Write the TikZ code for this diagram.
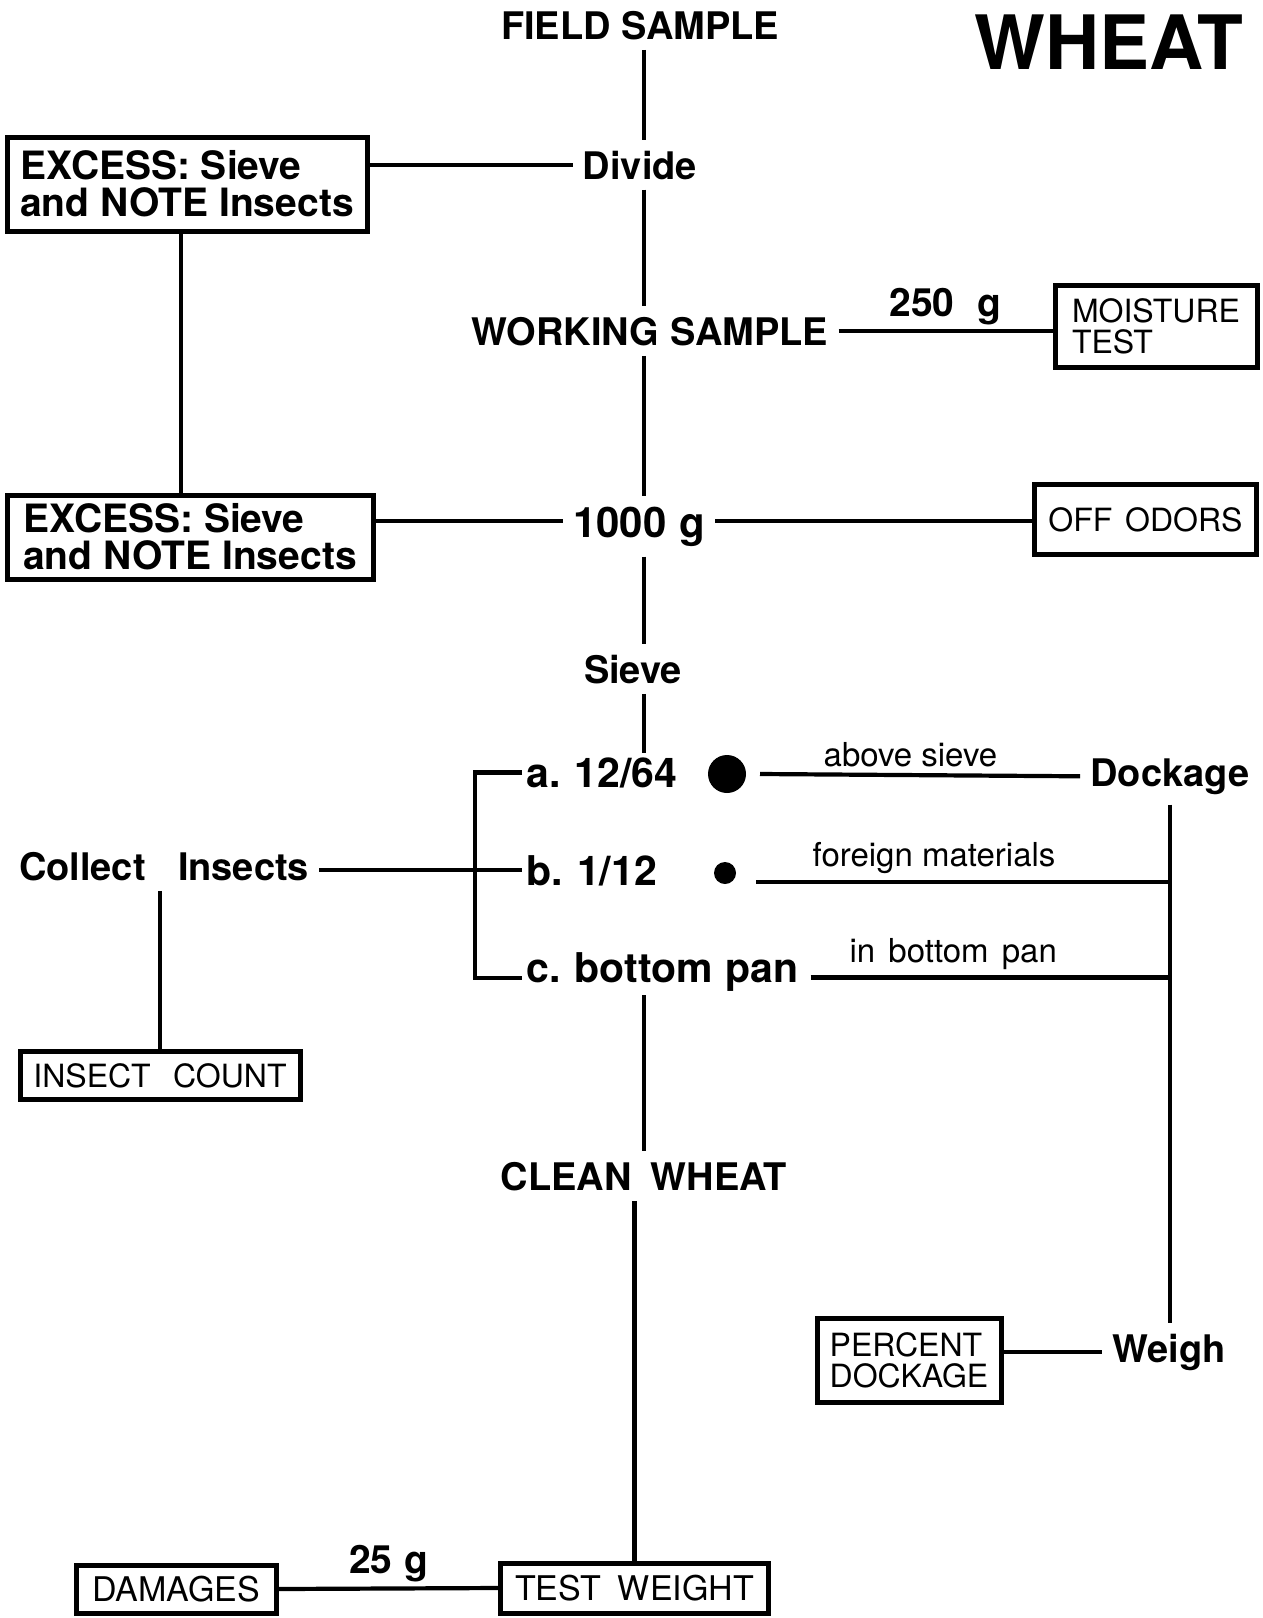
\documentclass[tikz,border=0pt]{standalone}
\usepackage{fontspec}
\setmainfont{TeX Gyre Heros}
\usetikzlibrary{positioning}

\begin{document}
\begin{tikzpicture}[x=0.5pt,y=0.5pt,yscale=-1,xscale=1,
  stage/.style={font=\fontsize{19}{19}\selectfont\bfseries, inner sep=5pt, anchor=base},
  sieverow/.style={font=\fontsize{20.5}{20}\selectfont\bfseries, inner sep=2pt, anchor=base west},
  sidenote/.style={font=\fontsize{16.5}{16}\selectfont, inner sep=3pt, above},
  weightnote/.style={font=\fontsize{19.5}{19}\selectfont\bfseries, inner sep=2pt, above},
  excess/.style={draw, line width=2.5pt, align=left, font=\fontsize{19.5}{18.5}\selectfont\bfseries, inner xsep=6pt},
  testbox/.style={draw, line width=2.5pt, align=left, font=\fontsize{16}{15.5}\selectfont, inner xsep=5pt},
  link/.style={line width=2.1pt},
  bigdot/.style={circle, fill, inner sep=0pt, minimum size=19pt, outer sep=7pt},
  smalldot/.style={circle, fill, inner sep=0pt, minimum size=11pt, outer sep=10pt}]

\path[fill=white] (0,0) rectangle (1263,1618);
\useasboundingbox (0,0) rectangle (1263,1618);
\coordinate (spine) at (644,0);

% Text Node
\node[stage] (fs) at (640,39) {FIELD SAMPLE};
% Text Node
\node[font=\fontsize{37.5}{37.5}\selectfont\bfseries, anchor=base] (title) at (1109,69) {WHEAT};
% Text Node
\node[stage] (div) at (640,179) {Divide};
% Text Node
\node[stage] (ws) at (650,345) {WORKING\hspace{0.3em}SAMPLE};
% Text Node
\node[stage, font=\fontsize{21}{21}\selectfont\bfseries] (kg) at (639,537) {1000\hspace{0.3em}g};
% Text Node
\node[stage] (sieve) at (633,683) {Sieve};
% Text Node
\node[sieverow] (rowa) at (522,787) {a.\hspace{0.35em}12/64};
\node[sieverow] (rowb) at (522,885) {b.\hspace{0.35em}1/12};
\node[sieverow] (rowc) at (522,982) {c.\hspace{0.35em}bottom\hspace{0.3em}pan};
\node[bigdot] (dota) at (727,774) {};
\node[smalldot] (dotb) at (725,873) {};
% Text Node
\node[stage] (dock) at (1170,786) {Dockage};
\node[stage] (weigh) at (1169,1362) {Weigh};
\node[stage] (coll) at (164,880) {Collect\hspace{0.85em}Insects};
\node[stage] (clean) at (644,1190) {CLEAN\hspace{0.5em}WHEAT};

% Boxes
\node[excess, minimum width=180pt, minimum height=47pt] (exA) at (187,184) {EXCESS: Sieve\\and NOTE Insects};
\node[excess, minimum width=183pt, minimum height=42pt] (exB) at (190,537) {EXCESS: Sieve\\and NOTE Insects};
\node[testbox, minimum width=101pt, minimum height=41pt] (moist) at (1156,326) {MOISTURE\\TEST};
\node[testbox, minimum width=111pt, minimum height=35pt] (odors) at (1145.5,519.5) {OFF\hspace{0.4em}ODORS};
\node[testbox, minimum width=140pt, minimum height=24pt] (count) at (160,1075.5) {INSECT\hspace{0.7em}COUNT};
\node[testbox, minimum width=92pt, minimum height=42pt] (pct) at (909,1360) {PERCENT\\DOCKAGE};
\node[testbox, font=\fontsize{17}{17}\selectfont, minimum width=100pt, minimum height=24pt] (dam) at (176.5,1589) {DAMAGES};
\node[testbox, font=\fontsize{17}{17}\selectfont, minimum width=134pt, minimum height=25pt] (testw) at (634.5,1588) {TEST\hspace{0.5em}WEIGHT};

%Straight Lines
\draw[link] (fs.south -| spine) -- (div.north -| spine);
\draw[link] (div.south -| spine) -- (ws.north -| spine);
\draw[link] (ws.south -| spine) -- (kg.north -| spine);
\draw[link] (kg.south -| spine) -- (sieve.north -| spine);
\draw[link] (sieve.south -| spine) -- (rowa.north -| spine);
%Straight Lines
\draw[link] (div.west -| exA.east) -- (div.west);
\draw[link] (exA.south) ++(-6,0) coordinate (va) -- (va |- exB.north);
\draw[link] ([yshift=-2.5pt]kg.west -| exB.east) -- ([yshift=-2.5pt]kg.west);
\draw[link] ([yshift=-2.5pt]kg.east) -- ([yshift=-2.5pt]kg.east -| odors.west);
\draw[link] (ws.east) -- (ws.east -| moist.west) node[weightnote, midway] {250\hspace{0.6em}g};
%Straight Lines
\draw[link] (dota.east) -- (dock.west) node[sidenote, pos=0.47] {above sieve};
\draw[link] (dotb.east) ++(0,9) coordinate (bstart) -- (bstart -| dock.south) node[sidenote, pos=0.43] {foreign materials};
\draw[link, shorten <=4pt] (rowc.east) ++(0,6) coordinate (cstart) -- (cstart -| dock.south) node[sidenote, pos=0.41] {in\hspace{0.4em}bottom\hspace{0.4em}pan};
\draw[link] (dock.south) -- (dock.south |- weigh.north);
\draw[link] (weigh.west -| pct.east) -- (weigh.west);
%Straight Lines
\draw[link] (rowa.west) -- ++(-47,0) |- ([yshift=-2pt]rowc.base west);
\draw[link] (rowb.west -| coll.east) -- (rowb.west);
\draw[link] (coll.south -| count.north) -- (count.north);
%Straight Lines
\draw[link] (rowc.south -| clean.north) -- (clean.north);
\draw[link] (testw.north |- clean.south) -- (testw.north);
\draw[link] (dam.east) -- (testw.west) node[weightnote, midway] {25\hspace{0.3em}g};

\end{tikzpicture}
\end{document}
